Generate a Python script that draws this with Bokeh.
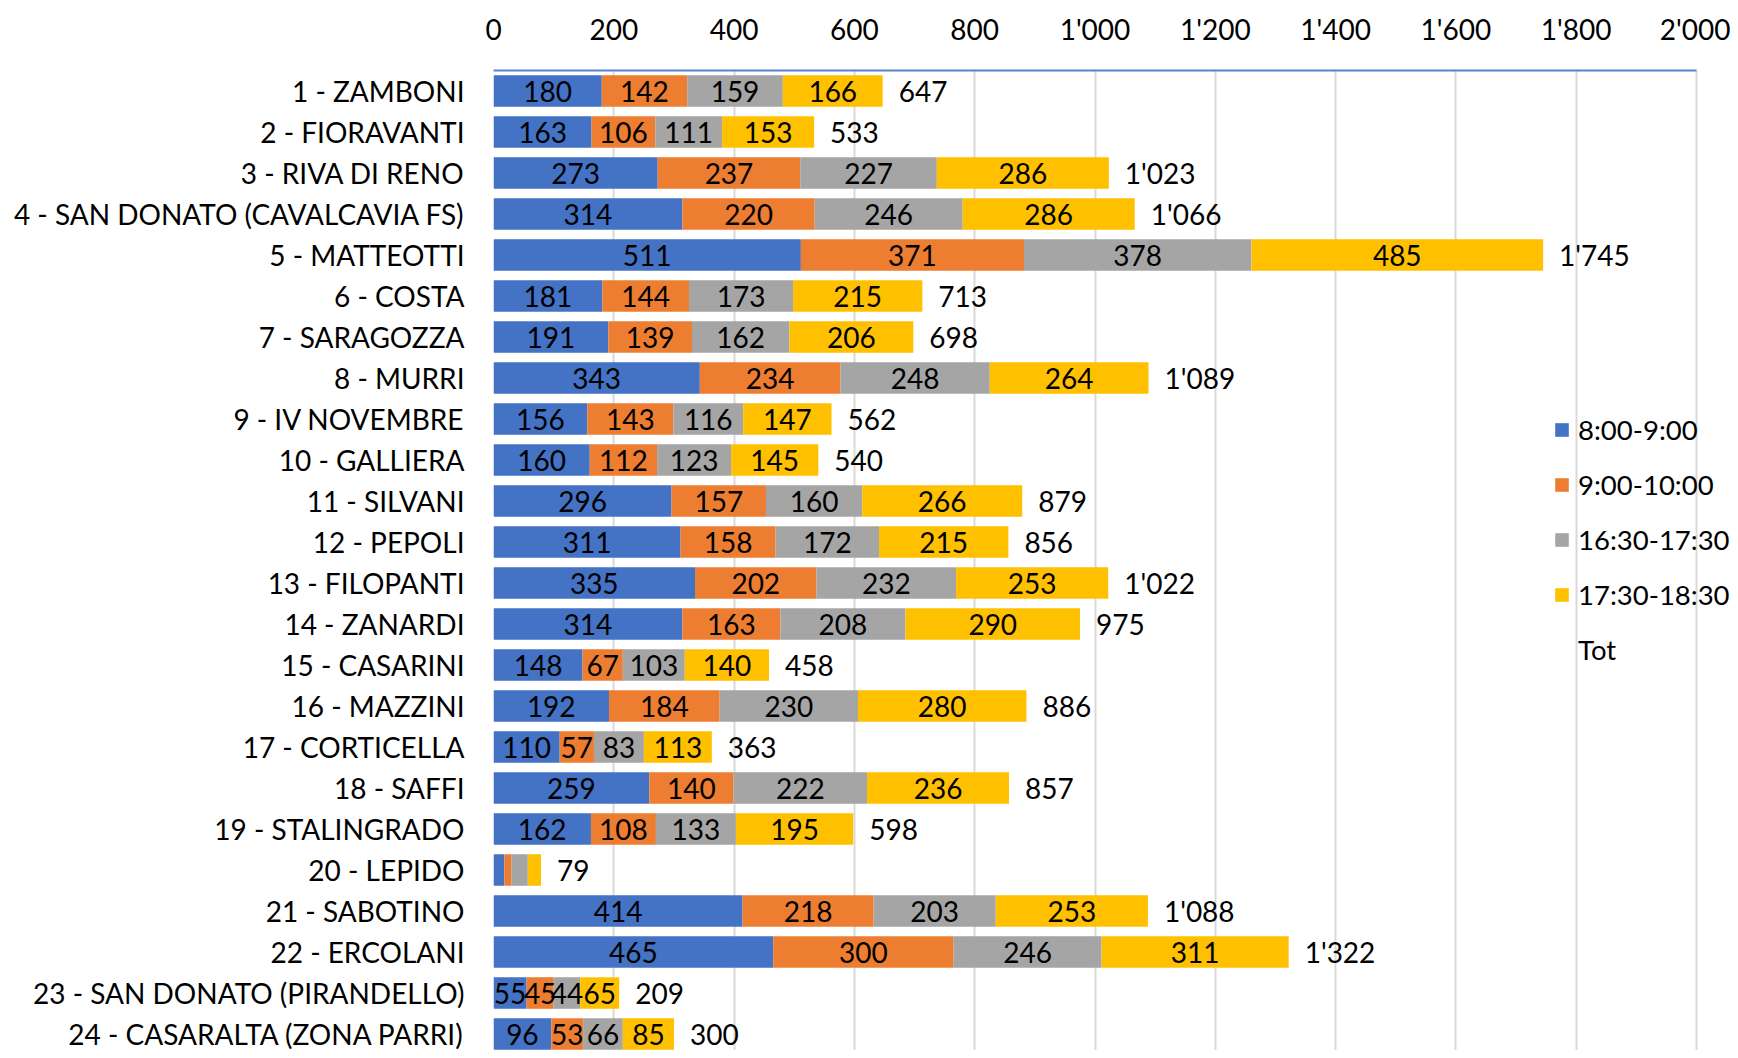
from bokeh.plotting import figure
from bokeh.models import ColumnDataSource, Range1d, FixedTicker, Legend, LegendItem
from bokeh.core.properties import value
from bokeh.embed import file_html
from bokeh.resources import INLINE

stations = [
    "1 - ZAMBONI", "2 - FIORAVANTI", "3 - RIVA DI RENO", "4 - SAN DONATO (CAVALCAVIA FS)",
    "5 - MATTEOTTI", "6 - COSTA", "7 - SARAGOZZA", "8 - MURRI", "9 - IV NOVEMBRE",
    "10 - GALLIERA", "11 - SILVANI", "12 - PEPOLI", "13 - FILOPANTI", "14 - ZANARDI",
    "15 - CASARINI", "16 - MAZZINI", "17 - CORTICELLA", "18 - SAFFI", "19 - STALINGRADO",
    "20 - LEPIDO", "21 - SABOTINO", "22 - ERCOLANI", "23 - SAN DONATO (PIRANDELLO)",
    "24 - CASARALTA (ZONA PARRI)",
]
s_0800 = [180, 163, 273, 314, 511, 181, 191, 343, 156, 160, 296, 311, 335, 314, 148, 192, 110, 259, 162, 18, 414, 465, 55, 96]
s_0900 = [142, 106, 237, 220, 371, 144, 139, 234, 143, 112, 157, 158, 202, 163, 67, 184, 57, 140, 108, 12, 218, 300, 45, 53]
s_1630 = [159, 111, 227, 246, 378, 173, 162, 248, 116, 123, 160, 172, 232, 208, 103, 230, 83, 222, 133, 27, 203, 246, 44, 66]
s_1730 = [166, 153, 286, 286, 485, 215, 206, 264, 147, 145, 266, 215, 253, 290, 140, 280, 113, 236, 195, 22, 253, 311, 65, 85]
totals = [647, 533, 1023, 1066, 1745, 713, 698, 1089, 562, 540, 879, 856, 1022, 975, 458, 886, 363, 857, 598, 79, 1088, 1322, 209, 300]

series_names = ["8:00-9:00", "9:00-10:00", "16:30-17:30", "17:30-18:30"]
total_name = "Tot"
colors = ["#4472C4", "#ED7D31", "#A5A5A5", "#FFC000"]
x_ticks = [0, 200, 400, 600, 800, 1000, 1200, 1400, 1600, 1800, 2000]
x_tick_labels = ["0", "200", "400", "600", "800", "1'000", "1'200", "1'400", "1'600", "1'800", "2'000"]

FONT = "Lato"
FS = "28px"

# layout (pixels)
FRAME_W = 1237          # frame runs to the right edge of the figure
PX_PER_2000 = 1203      # 0..2000 occupies this many pixels
FRAME_H = 980
ROW_PX = 41.0
X_END = 2000 * FRAME_W / PX_PER_2000
Y_BOTTOM = 0.5 + FRAME_H / ROW_PX

rows = list(range(1, len(stations) + 1))
series = [s_0800, s_0900, s_1630, s_1730]
keys = ["s1", "s2", "s3", "s4"]
data = dict(y=rows)
for k, s in zip(keys, series):
    data[k] = s
src = ColumnDataSource(data)

p = figure(frame_width=FRAME_W, frame_height=FRAME_H,
           x_range=Range1d(0, X_END), y_range=Range1d(Y_BOTTOM, 0.5),
           x_axis_location="above",
           output_backend="svg", toolbar_location=None,
           min_border_left=493, min_border_right=0,
           min_border_top=70, min_border_bottom=0)

renderers = p.hbar_stack(keys, y="y", height=0.77, color=colors, line_color=None, source=src)

# invisible "Tot" series stacked after the visible ones
tot_src = ColumnDataSource(dict(y=rows, left=totals, right=[t + t for t in totals]))
tot_r = p.hbar(y="y", left="left", right="right", height=0.77, source=tot_src,
               fill_alpha=0, line_alpha=0)

# segment labels
lx, ly, lt = [], [], []
for i in range(len(rows)):
    base = 0
    for s in series:
        v = s[i]
        if v >= 30:
            lx.append(base + v / 2)
            ly.append(rows[i])
            lt.append(str(v))
        base += v
p.text(x=lx, y=ly, text=lt, text_align="center", text_baseline="middle",
       text_font=value(FONT), text_font_size=FS, text_color="black")

# total labels
tot_text = [f"{t:,}".replace(",", "'") for t in totals]
p.text(x=totals, y=rows, text=tot_text, x_offset=16, text_align="left", text_baseline="middle",
       text_font=value(FONT), text_font_size=FS, text_color="black")

legend = Legend(
    items=[LegendItem(label=n, renderers=[r]) for n, r in zip(series_names, renderers)]
    + [LegendItem(label=total_name, renderers=[tot_r])],
    location=(1060, 384), glyph_width=17, glyph_height=17, label_height=30,
    spacing=22, padding=0, margin=0, label_standoff=8,
    border_line_color=None, background_fill_alpha=0,
    label_text_font=FONT, label_text_font_size="27.5px", label_text_color="black",
)
p.add_layout(legend)

xa = p.xaxis[0]
xa.ticker = FixedTicker(ticks=x_ticks)
xa.bounds = (0, 2000)
xa.major_label_overrides = {t: l for t, l in zip(x_ticks, x_tick_labels)}
xa.axis_line_color = "#5A82D0"
xa.axis_line_width = 2
xa.major_tick_line_color = None
xa.minor_tick_line_color = None
xa.major_label_text_font = FONT
xa.major_label_text_font_size = FS
xa.major_label_text_color = "black"
xa.major_label_standoff = 19

ya = p.yaxis[0]
ya.ticker = FixedTicker(ticks=rows)
ya.major_label_overrides = {r: n for r, n in zip(rows, stations)}
ya.axis_line_color = None
ya.major_tick_line_color = None
ya.minor_tick_line_color = None
ya.major_label_text_font = FONT
ya.major_label_text_font_size = FS
ya.major_label_text_color = "black"
ya.major_label_standoff = 23

p.ygrid.grid_line_color = None
p.xgrid.ticker = FixedTicker(ticks=x_ticks)
p.xgrid.grid_line_color = "#D9D9D9"
p.xgrid.grid_line_width = 2
p.outline_line_color = None

open("out.html", "w").write(file_html(p, INLINE))
